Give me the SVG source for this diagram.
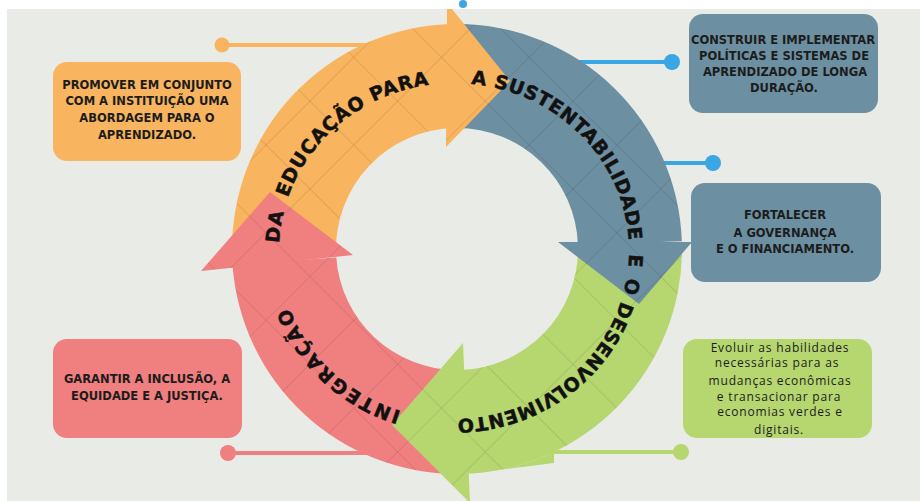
<svg xmlns="http://www.w3.org/2000/svg" width="920" height="501" viewBox="0 0 920 501">
<defs>
<style>
.or{fill:#f8b45e}.bl{fill:#6d8fa2}.gr{fill:#b6d670}.pk{fill:#f07f7f}
.bt{font-family:"DejaVu Sans","Liberation Sans",sans-serif;font-weight:700;font-size:11.5px;fill:#1c1c1c;text-anchor:middle}
.gt{font-family:"Open Sans","Liberation Sans",sans-serif;font-size:12px;fill:#1c1c1c;text-anchor:middle;letter-spacing:0.8px}
.rt{font-family:"DejaVu Sans","Liberation Sans",sans-serif;font-weight:700;font-size:19px;fill:#111;stroke:#111;stroke-width:0.5px;text-anchor:middle}
.ln{stroke-width:4;fill:none}
</style>
<path id="tp" d="M454,419 A175,168 0 1 1 454,83 A175,168 0 1 1 454,419"/>
<pattern id="tex" patternUnits="userSpaceOnUse" width="62" height="62" patternTransform="rotate(45 457 249)">
<path d="M0,0.5H62M0.5,0V62" stroke="#000" stroke-opacity="0.09" stroke-width="1" fill="none"/>
</pattern>
<clipPath id="rc">
<use href="#bandO"/><use href="#bandB"/><use href="#bandG"/><use href="#bandP"/>
<use href="#headO"/><use href="#headB"/><use href="#headG"/><use href="#headP"/><use href="#notchG"/>
</clipPath>
</defs>
<rect width="920" height="501" fill="#ffffff"/>
<rect x="7" y="9" width="913" height="492" fill="#e9ebe6"/>
<circle cx="463" cy="4" r="4" fill="#3aa6e3"/>

<g id="connectors">
<line class="ln" x1="222" y1="45" x2="372" y2="45" stroke="#f8b45e"/><circle cx="222" cy="45" r="7.5" fill="#f8b45e"/>
<line class="ln" x1="572" y1="62" x2="672" y2="62" stroke="#3aa6e3"/><circle cx="672" cy="62" r="8" fill="#3aa6e3"/>
<line class="ln" x1="655" y1="163" x2="713" y2="163" stroke="#3aa6e3"/><circle cx="713" cy="163" r="8" fill="#3aa6e3"/>
<line class="ln" x1="228" y1="453" x2="370" y2="453" stroke="#f07f7f"/><circle cx="228" cy="453" r="8" fill="#f07f7f"/>
<line class="ln" x1="540" y1="452" x2="681" y2="452" stroke="#b6d670"/><circle cx="681" cy="452" r="8" fill="#b6d670"/>
</g>

<g id="cycle">
<g id="arrow-orange-band"><path id="bandO" class="or" d="M232.14,256.85 A225,225 0 0 1 453.07,24.03 L454.89,128.02 A121,121 0 0 0 336.07,253.22 Z"/></g>
<g id="arrow-blue-band"><path id="bandB" class="bl" d="M457,24 A225,225 0 0 1 681.86,241.15 L577.93,244.78 A121,121 0 0 0 457,128 Z"/></g>
<g id="arrow-green-band"><path id="bandG" class="gr" d="M682,249 A225,225 0 0 1 464.85,473.86 L461.22,369.93 A121,121 0 0 0 578,249 Z"/>
<path id="notchG" class="gr" d="M554,452 L554,463 L469.5,473.5 A225,225 0 0 0 554,452 Z"/></g>
<g id="arrow-pink-band"><path id="bandP" class="pk" d="M457,474 A225,225 0 0 1 232.55,264.70 L336.30,257.44 A121,121 0 0 0 457,370 Z"/></g>
<g id="arrow-orange-head"><polygon id="headO" class="or" points="447,9 452,9 510,81 446,147"/></g>
<g id="arrow-blue-head"><polygon id="headB" class="bl" points="558,242 692,242 639,304"/></g>
<g id="arrow-green-head"><polygon id="headG" class="gr" points="463,343 392,425 470,503"/></g>
<g id="arrow-pink-head"><polygon id="headP" class="pk" points="353,255 270,192 201,271"/></g>
<rect x="150" y="0" width="620" height="501" fill="url(#tex)" clip-path="url(#rc)"/>
</g>

<g id="cycle-label">
<text class="rt" letter-spacing="2.1"><textPath href="#tp" startOffset="12.39%">INTEGRAÇÃO</textPath></text>
<text class="rt" letter-spacing="1"><textPath href="#tp" startOffset="27.22%">DA</textPath></text>
<text class="rt" letter-spacing="0.8"><textPath href="#tp" startOffset="38.89%">EDUCAÇÃO PARA</textPath></text>
<text class="rt" letter-spacing="0.55"><textPath href="#tp" startOffset="62.83%">A SUSTENTABILIDADE</textPath></text>
<text class="rt" letter-spacing="2"><textPath href="#tp" startOffset="77.22%">E O</textPath></text>
<text class="rt" letter-spacing="0.35"><textPath href="#tp" startOffset="89.72%">DESENVOLVIMENTO</textPath></text>
</g>

<g id="box-promover">
<rect x="53" y="62" width="188" height="99" rx="14" class="or"/>
<text class="bt"><tspan x="147" y="88.5">PROMOVER EM CONJUNTO</tspan><tspan x="147" y="104.5">COM A INSTITUIÇÃO UMA</tspan><tspan x="147" y="121.5">ABORDAGEM PARA O</tspan><tspan x="147" y="138.5">APRENDIZADO.</tspan></text>
</g>
<g id="box-construir">
<rect x="689" y="14" width="189" height="99" rx="14" class="bl"/>
<text class="bt"><tspan x="783" y="43.5">CONSTRUIR E IMPLEMENTAR</tspan><tspan x="784" y="60">POLÍTICAS E SISTEMAS DE</tspan><tspan x="785" y="76">APRENDIZADO DE LONGA</tspan><tspan x="784" y="91.5">DURAÇÃO.</tspan></text>
</g>
<g id="box-fortalecer">
<rect x="691" y="183" width="190" height="99" rx="14" class="bl"/>
<text class="bt"><tspan x="785" y="219">FORTALECER</tspan><tspan x="785" y="236.5">A GOVERNANÇA</tspan><tspan x="785" y="253">E O FINANCIAMENTO.</tspan></text>
</g>
<g id="box-evoluir">
<rect x="683" y="339" width="189" height="99" rx="14" class="gr"/>
<text class="gt"><tspan x="780" y="351.5">Evoluir as habilidades</tspan><tspan x="777" y="367">necessárias para as</tspan><tspan x="780" y="384.5">mudanças econômicas</tspan><tspan x="779" y="400.5">e transacionar para</tspan><tspan x="780" y="416">economias verdes e</tspan><tspan x="779" y="433.5">digitais.</tspan></text>
</g>
<g id="box-garantir">
<rect x="53" y="339" width="189" height="99" rx="14" class="pk"/>
<text class="bt"><tspan x="147" y="383">GARANTIR A INCLUSÃO, A</tspan><tspan x="147" y="400">EQUIDADE E A JUSTIÇA.</tspan></text>
</g>
</svg>
